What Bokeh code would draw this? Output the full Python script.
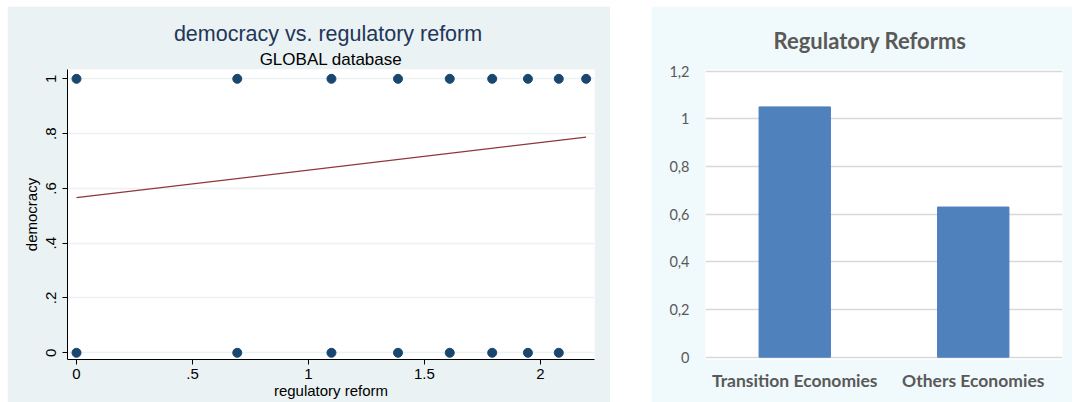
from bokeh.plotting import figure
from bokeh.models import Range1d, FactorRange, Title, Spacer, FixedTicker
from bokeh.layouts import row, column
from bokeh.embed import file_html
from bokeh.resources import INLINE

# ---- Left chart data (Stata scatter) ----
reform_dem1 = [0, 0.693, 1.099, 1.386, 1.609, 1.792, 1.946, 2.079, 2.197]
democracy_1 = [1, 1, 1, 1, 1, 1, 1, 1, 1]
reform_dem0 = [0, 0.693, 1.099, 1.386, 1.609, 1.792, 1.946, 2.079]
democracy_0 = [0, 0, 0, 0, 0, 0, 0, 0]
fit_x = [0, 2.197]
fit_y = [0.566, 0.787]
x_ticks = [0, 0.5, 1, 1.5, 2]
x_tick_labels = ["0", ".5", "1", "1.5", "2"]
y_ticks = [0, 0.2, 0.4, 0.6, 0.8, 1]
y_tick_labels = ["0", ".2", ".4", ".6", ".8", "1"]

# ---- Right chart data (bar chart) ----
categories = ["Transition Economies", "Others Economies"]
reforms = [1.05, 0.63]
bar_ticks = [0, 0.2, 0.4, 0.6, 0.8, 1, 1.2]
bar_tick_labels = ["0", "0,2", "0,4", "0,6", "0,8", "1", "1,2"]

SF = "Liberation Sans"
H = 396
BT, BB = 63, 43   # shared top/bottom borders (frames are aligned in a row)

# ================= Left figure =================
p1 = figure(width=603, height=H, output_backend="svg", toolbar_location=None,
            x_range=Range1d(-0.0388, 2.233), y_range=Range1d(-0.0245, 1.034),
            min_border_left=60, min_border_right=16, min_border_top=BT, min_border_bottom=BB)
p1.border_fill_color = "#EAF2F3"
p1.background_fill_color = "white"
p1.outline_line_color = None

p1.add_layout(Title(text="GLOBAL database", align="center", text_font=SF,
                    text_font_size="17px", text_font_style="normal", text_color="black",
                    standoff=2), "above")
p1.add_layout(Title(text="democracy  vs. regulatory reform", align="center", text_font=SF,
                    text_font_size="21.5px", text_font_style="normal", text_color="#233659",
                    standoff=2), "above")

p1.xgrid.visible = False
p1.ygrid.ticker = FixedTicker(ticks=y_ticks)
p1.ygrid.grid_line_color = "#EAF2F3"
p1.ygrid.grid_line_width = 1.5

for ax in (p1.xaxis[0], p1.yaxis[0]):
    ax.axis_line_color = "black"
    ax.axis_line_width = 1
    ax.major_tick_line_color = "black"
    ax.major_tick_out = 5
    ax.major_tick_in = 0
    ax.minor_tick_line_color = None
    ax.major_label_text_font = SF
    ax.major_label_text_font_size = "15px"
    ax.major_label_text_color = "black"
    ax.axis_label_text_font = SF
    ax.axis_label_text_font_size = "15px"
    ax.axis_label_text_font_style = "normal"
    ax.axis_label_text_color = "black"

p1.xaxis.ticker = FixedTicker(ticks=x_ticks)
p1.xaxis.major_label_overrides = {t: l for t, l in zip(x_ticks, x_tick_labels)}
p1.xaxis.axis_label = "regulatory reform"
p1.xaxis.major_label_standoff = 4
p1.xaxis.axis_label_standoff = 0

p1.yaxis.ticker = FixedTicker(ticks=y_ticks)
p1.yaxis.major_label_overrides = {t: l for t, l in zip(y_ticks, y_tick_labels)}
p1.yaxis.major_label_orientation = "vertical"
p1.yaxis.axis_label = "democracy"
p1.yaxis.major_label_standoff = 6
p1.yaxis.axis_label_standoff = 4

p1.line(fit_x, fit_y, line_color="#90353B", line_width=1.3)
p1.scatter(reform_dem1, democracy_1, size=9, fill_color="#1A476F", line_color="#1A476F")
p1.scatter(reform_dem0, democracy_0, size=9, fill_color="#1A476F", line_color="#1A476F")

# ================= Right figure =================
LF = "Lato"
p2 = figure(width=421, height=H, output_backend="svg", toolbar_location=None,
            x_range=FactorRange(*categories, range_padding=0),
            y_range=Range1d(-0.0097, 1.207),
            min_border_left=54, min_border_right=10, min_border_top=BT, min_border_bottom=BB)
p2.border_fill_color = "#F0F9FB"
p2.background_fill_color = "white"
p2.outline_line_color = None

p2.add_layout(Title(text="Regulatory Reforms", align="left", text_font=LF,
                    text_font_size="22px", text_font_style="bold", text_color="#595959",
                    standoff=31, offset=68), "above")

p2.xgrid.visible = False
p2.ygrid.ticker = FixedTicker(ticks=bar_ticks)
p2.ygrid.grid_line_color = "#D9D9D9"
p2.ygrid.grid_line_width = 1.5

p2.vbar(x=categories, top=reforms, width=0.4, fill_color="#4F81BD", line_color="#4F81BD")

p2.xaxis.axis_line_color = None
p2.xaxis.major_tick_line_color = None
p2.xaxis.minor_tick_line_color = None
p2.xaxis.major_tick_out = 0
p2.xaxis.major_label_text_font = LF
p2.xaxis.major_label_text_font_size = "17.5px"
p2.xaxis.major_label_text_font_style = "bold"
p2.xaxis.major_label_text_color = "#595959"
p2.xaxis.major_label_standoff = 10

p2.yaxis.ticker = FixedTicker(ticks=bar_ticks)
p2.yaxis.major_label_overrides = {t: l for t, l in zip(bar_ticks, bar_tick_labels)}
p2.yaxis.axis_line_color = None
p2.yaxis.major_tick_line_color = None
p2.yaxis.minor_tick_line_color = None
p2.yaxis.major_tick_out = 0
p2.yaxis.major_label_text_font = LF
p2.yaxis.major_label_text_font_size = "14.5px"
p2.yaxis.major_label_text_color = "#595959"
p2.yaxis.major_label_standoff = 16

layout = column(Spacer(width=10, height=6),
                row(Spacer(width=7, height=H), p1, Spacer(width=41, height=H), p2))

with open("out.html", "w") as f:
    f.write(file_html(layout, INLINE))
